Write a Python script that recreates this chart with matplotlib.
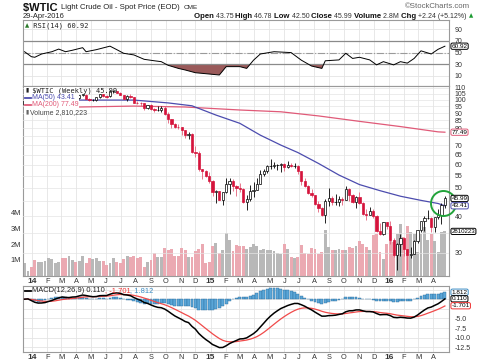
import numpy as np
import pandas as pd
import matplotlib
matplotlib.use('Agg')
import matplotlib.pyplot as plt
from matplotlib.patches import Rectangle
from matplotlib.lines import Line2D
from matplotlib.ticker import FixedLocator, FuncFormatter, NullLocator
from matplotlib.transforms import blended_transform_factory as blend

plt.rcParams['font.family'] = ['Liberation Sans', 'DejaVu Sans']

# weekly bars, week ending Friday
weeks = pd.date_range('2013-12-20', '2016-04-29', freq='W-FRI')

opens = [96.6, 99.3, 99.9, 93.9, 92.6, 94.3, 96.5, 97.4, 99.8, 100.3,
         102.2, 102.8, 102.4, 98.9, 99.5, 101.6, 101.1, 103.7, 104.2, 100.6,
         99.8, 100.0, 102.0, 104.3, 102.7, 102.7, 106.9, 107.2, 105.7, 103.8,
         100.8, 103.1, 102.0, 97.9, 97.6, 97.3, 93.6, 96.0, 93.3, 92.3,
         92.4, 93.5, 89.7, 85.8, 82.8, 81.0, 80.5, 78.6, 75.8, 76.4,
         66.1, 65.8, 57.8, 57.1, 54.7, 52.7, 48.4, 48.7, 45.6, 48.3,
         51.7, 52.8, 50.8, 49.8, 49.6, 44.8, 45.7, 48.9, 49.1, 51.6,
         55.7, 57.2, 59.2, 59.4, 59.7, 59.7, 60.3, 59.1, 60.0, 59.6,
         59.6, 56.9, 52.7, 50.9, 48.1, 47.1, 43.9, 42.5, 40.5, 45.2,
         46.1, 44.6, 44.7, 45.7, 45.5, 49.6, 47.3, 44.6, 46.6, 44.3,
         40.7, 40.4, 41.7, 40.0, 35.6, 34.7, 38.1, 37.0, 33.2, 29.4,
         32.2, 33.6, 30.9, 29.4, 29.6, 32.8, 35.9, 38.5, 39.4, 39.5,
         36.8, 39.7, 40.4, 43.75]
highs = [99.5, 100.8, 100.0, 94.6, 94.8, 97.8, 98.2, 100.3, 101.0, 103.7,
         103.0, 105.2, 102.6, 101.4, 102.0, 101.8, 104.1, 104.9, 104.5, 101.4,
         101.0, 102.3, 104.6, 104.5, 103.5, 107.7, 107.7, 107.5, 106.2, 104.1,
         104.2, 105.1, 102.2, 98.8, 98.2, 97.5, 96.2, 96.8, 93.8, 95.2,
         94.9, 95.2, 90.5, 86.0, 83.5, 82.5, 80.8, 79.0, 77.5, 76.9,
         69.6, 66.6, 58.1, 57.6, 56.8, 53.1, 49.3, 48.9, 48.3, 54.2,
         54.0, 53.8, 51.0, 52.0, 50.0, 47.4, 51.3, 52.5, 54.0, 57.4,
         58.0, 59.9, 62.6, 61.5, 60.2, 60.6, 61.0, 61.6, 61.0, 61.0,
         59.9, 57.0, 53.9, 51.2, 49.4, 47.4, 45.2, 43.1, 45.9, 50.0,
         46.9, 47.6, 46.8, 46.4, 50.9, 49.9, 47.5, 47.0, 48.4, 44.8,
         42.3, 43.0, 42.4, 40.3, 37.9, 38.3, 38.2, 38.4, 33.7, 32.4,
         34.8, 33.7, 31.0, 31.5, 33.1, 36.0, 38.5, 40.2, 41.9, 39.6,
         39.8, 42.4, 44.5, 46.78]
lows = [96.0, 98.5, 93.8, 91.2, 91.5, 94.0, 95.0, 96.0, 99.0, 99.8,
        100.5, 100.8, 97.5, 97.8, 98.8, 98.8, 100.6, 103.0, 100.4, 98.9,
        98.9, 99.0, 101.5, 102.0, 101.8, 102.5, 105.6, 105.2, 103.5, 100.6,
        99.2, 101.5, 97.5, 96.7, 95.0, 92.5, 92.8, 92.5, 90.5, 91.4,
        91.2, 88.5, 83.6, 79.8, 80.0, 79.5, 75.8, 73.8, 73.3, 65.7,
        63.7, 57.3, 53.6, 54.5, 52.0, 46.8, 44.2, 45.4, 43.6, 48.0,
        47.8, 48.8, 47.0, 48.5, 44.4, 42.0, 45.2, 46.7, 49.0, 51.5,
        55.0, 56.4, 58.0, 58.6, 57.5, 56.5, 57.2, 58.5, 58.8, 58.6,
        55.7, 51.3, 50.3, 47.7, 46.7, 43.8, 41.4, 40.2, 37.8, 43.2,
        43.6, 43.7, 43.2, 43.8, 45.4, 45.1, 44.2, 42.6, 44.1, 40.5,
        38.9, 40.4, 39.3, 35.4, 34.5, 34.6, 36.1, 32.1, 29.1, 26.2,
        29.3, 29.3, 26.1, 28.7, 29.6, 32.5, 35.3, 35.5, 39.0, 35.2,
        35.2, 39.0, 37.6, 42.50]
closes = [99.3, 100.3, 94.0, 92.7, 94.4, 96.6, 97.5, 99.9, 100.3, 102.2,
          102.6, 102.5, 98.9, 99.5, 101.7, 101.1, 103.7, 104.3, 100.6, 99.8,
          100.0, 102.0, 104.4, 102.7, 102.6, 106.9, 107.3, 105.7, 103.8, 100.8,
          103.1, 102.1, 97.9, 97.7, 97.4, 93.7, 96.0, 93.3, 92.3, 92.4,
          93.5, 89.7, 85.8, 82.8, 81.0, 80.5, 78.7, 75.8, 76.5, 66.2,
          65.8, 57.8, 57.1, 54.7, 52.7, 48.4, 48.7, 45.6, 48.2, 51.7,
          52.8, 50.8, 49.8, 49.6, 44.8, 45.7, 48.9, 49.1, 51.6, 55.7,
          57.2, 59.2, 59.4, 59.7, 59.7, 60.3, 59.1, 60.0, 59.6, 59.6,
          56.9, 52.7, 50.9, 48.1, 47.1, 43.9, 42.5, 40.5, 45.2, 46.1,
          44.6, 44.7, 45.7, 45.5, 49.6, 47.3, 44.6, 46.6, 44.3, 40.7,
          40.4, 41.7, 40.0, 35.6, 34.7, 38.1, 37.0, 33.2, 29.4, 32.2,
          33.6, 30.9, 29.4, 29.6, 32.8, 35.9, 38.5, 39.4, 39.5, 36.8,
          39.7, 40.4, 43.7, 45.99]
volume_m = [0.79, 0.28, 0.57, 1.0, 0.85, 0.87, 0.93, 1.1, 1.06, 0.79,
            0.89, 1.12, 1.12, 1.27, 1.0, 0.85, 0.95, 1.25, 0.8, 1.12,
            1.08, 1.12, 0.95, 0.93, 0.7, 0.79, 1.12, 0.85, 0.79, 1.06,
            1.23, 1.21, 1.25, 1.12, 1.21, 0.57, 0.85, 1.0, 1.42, 1.17,
            1.17, 1.76, 1.6, 1.7, 1.27, 1.27, 1.76, 1.6, 1.21, 1.21,
            1.55, 1.7, 2.0, 0.79, 0.89, 1.85, 2.06, 1.46, 1.6, 2.72,
            2.29, 1.55, 1.95, 1.9,
            1.85, 1.7, 1.8, 2.0, 1.9, 1.63, 1.7, 1.6, 1.63, 1.55,
            1.42, 1.38, 2.0, 1.7, 1.21, 1.12, 1.17, 1.97, 1.42, 1.38,
            1.76, 1.66, 1.38, 1.49, 2.9, 1.8, 1.6, 1.63, 1.7, 1.6,
            1.63, 1.8, 1.76, 1.85, 2.23, 2.0, 1.8, 1.63, 2.55, 2.65,
            1.49, 1.06, 2.0, 2.23, 2.12, 2.65, 3.25, 2.44, 3.18, 2.76,
            2.65, 1.49, 2.65, 3.08, 2.27, 2.65, 2.23, 1.49, 2.76, 2.81]

# indicator lines (week number, value)
rsi_week = [0, 2, 3, 5, 8, 10, 12, 14, 17, 18, 21, 25, 27, 29, 32, 35, 38, 40, 42, 45,
            47, 50, 54, 57, 59, 63, 65, 67, 69, 73, 78, 81, 84, 87, 88, 92, 94, 96, 98, 101,
            103, 105, 108, 110, 112, 114, 116, 119, 121, 123]
rsi_vals = [51.5, 43, 42, 47.6, 51.5, 56, 51.5, 54, 58.4, 51.5, 55, 61, 55, 48.8, 46, 38.5, 36, 34.5, 28.3, 23,
            20.3, 15.6, 13.4, 11.7, 26, 26, 23, 37, 47.6, 51.5, 50, 37, 27, 23, 36, 37.5, 48.8, 40, 42, 37.5,
            29, 34.5, 29, 34.5, 32, 40, 53, 47.6, 55.6, 60.92]
ma50_week = [0, 16, 32, 42, 49, 56, 63, 69, 75, 80, 86, 92, 98, 104, 110, 116, 121, 123]
ma50_vals = [98.5, 99.8, 99.8, 97.6, 95.4, 88.7, 83.1, 75.7, 70.0, 66.0, 60.6, 55.3, 51.3, 48.9,
             46.8, 45.3, 44.2, 43.41]
ma200_week = [0, 16, 32, 47, 63, 75, 86, 98, 110, 121, 123]
ma200_vals = [93.8, 94.5, 95.2, 94.5, 92.3, 91.0, 88.1, 84.4, 81.0, 77.7, 77.49]

assert len(opens) == len(highs) == len(lows) == len(closes) == len(volume_m) == len(weeks)

o = np.array(opens); h = np.array(highs); l = np.array(lows); c = np.array(closes)
n = len(c)
pos = np.arange(n)
prev = np.r_[o[0], c[:-1]]
up = c >= prev

RED = '#d5143c'
BLUE_MA = '#4c4cae'
RED_MA = '#e05a78'
GRID = '#e4e4e4'
EDGE = '#9a9a9a'
TXT = '#333333'

W, H = 480, 363
fig = plt.figure(figsize=(4.8, 3.63), dpi=100)
renderer = fig.canvas.get_renderer()

def fx(x):
    return x / W

def fy(y):
    return 1 - y / H

def px_axes(x0, y0, x1, y1):
    return fig.add_axes([fx(x0), fy(y1), (x1 - x0) / W, (y1 - y0) / H])

ax_r = px_axes(23, 20, 449, 86)
ax_v = px_axes(23, 86, 449, 276)
ax_p = ax_v.twinx()
ax_m = px_axes(23, 286, 449, 352)

# month gridlines, bars sit at the Monday of their week
monday0 = weeks[0] - pd.Timedelta(days=4)
months = pd.date_range('2014-01-01', '2016-04-01', freq='MS')
mpos = np.asarray((months - monday0).days) / 7.0
mlabels = [f'{m.year % 100}' if m.month == 1 else 'JFMAMJJASOND'[m.month - 1] for m in months]

for ax in (ax_r, ax_v, ax_m):
    ax.set_xlim(-0.45, 124.2)
    ax.set_xticks(mpos)
    ax.xaxis.grid(True, color=GRID, lw=0.6)
    ax.set_axisbelow(True)
    for s in ax.spines.values():
        s.set_color(EDGE)
        s.set_linewidth(0.8)
for s in ax_p.spines.values():
    s.set_visible(False)

for ax in (ax_v, ax_m):
    ax.set_xticklabels(mlabels)
    ax.tick_params(axis='x', length=0, pad=1.5, labelsize=5.3, labelcolor=TXT)
    for t, m in zip(ax.get_xticklabels(), months):
        if m.month == 1:
            t.set_fontweight('bold')
            t.set_fontsize(6)
ax_r.tick_params(axis='x', length=0, labelbottom=False)

# ---- RSI panel
ax_r.set_ylim(-7.1, 105.7)
ax_r.yaxis.tick_right()
ax_r.set_yticks([10, 30, 50, 70, 90])
ax_r.tick_params(axis='y', length=0, pad=4, labelsize=5, labelcolor=TXT)
ax_r.yaxis.grid(True, color=GRID, lw=0.6)
ax_r.axhline(70, color='#8a8a8a', lw=0.9)
ax_r.axhline(30, color='#8a8a8a', lw=0.9)
ax_r.axhline(50, color='#9a9a9a', lw=0.8, ls='-.')
rv = np.array(rsi_vals)
ax_r.fill_between(rsi_week, rv, 30, where=rv < 30, interpolate=True, color='#9a5a5a', lw=0)
ax_r.plot(rsi_week, rv, color='black', lw=0.7)

# ---- volume (behind price)
ax_v.set_ylim(-0.03, 12.07)
ax_v.bar(pos, volume_m, width=0.85, color=np.where(up, '#b8b8b8', '#eba9b2'), lw=0)
ax_v.set_yticks([1, 2, 3, 4])
ax_v.set_yticklabels(['1M', '2M', '3M', '4M'])
ax_v.tick_params(axis='y', length=0, pad=1.5, labelsize=5.3, labelcolor=TXT)

# ---- price candles
ax_p.set_yscale('log')
ax_p.set_ylim(24.97, 111.5)
pticks = list(range(30, 115, 5))
hidden = {35, 45, 75}   # covered by the value tags on the reference
ax_p.yaxis.set_major_locator(FixedLocator(pticks))
ax_p.yaxis.set_minor_locator(NullLocator())
ax_p.yaxis.set_major_formatter(FuncFormatter(lambda v, p: '' if round(v) in hidden else f'{v:.0f}'))
ax_p.tick_params(axis='y', length=0, pad=4, labelsize=5, labelcolor=TXT)
ax_p.yaxis.grid(True, color=GRID, lw=0.5)

ax_p.plot(ma200_week, ma200_vals, color=RED_MA, lw=0.9, zorder=2)
ax_p.plot(ma50_week, ma50_vals, color=BLUE_MA, lw=0.9, zorder=2)

wick = np.where(up, 'black', '#e4607a')
ax_p.vlines(pos, l, h, colors=wick, lw=0.6, zorder=3)
for i in range(n):
    col = 'black' if up[i] else RED
    lo, hi = min(o[i], c[i]), max(o[i], c[i])
    fill = col if c[i] < o[i] else 'white'
    ax_p.add_patch(Rectangle((i - 0.33, lo), 0.66, hi - lo, fc=fill, ec=col, lw=0.5, zorder=4))

# green circle on the latest bars
ax_p.plot(pos[-1] - 0.6, 44.5, 'o', ms=18, mfc='none', mec='#22a33a', mew=1.4,
          clip_on=False, zorder=12)

# ---- MACD panel
cs = pd.Series(c)
macd = cs.ewm(span=12, adjust=False).mean() - cs.ewm(span=26, adjust=False).mean()
signal = macd.ewm(span=9, adjust=False).mean()
hist = macd - signal
ax_m.set_ylim(-13.7, 3.42)
ax_m.yaxis.tick_right()
ax_m.set_yticks([-12.5, -10, -7.5, -5])
ax_m.set_yticklabels(['-12.5', '-10.0', '-7.5', '-5.0'])
ax_m.tick_params(axis='y', length=0, pad=4, labelsize=5, labelcolor=TXT)
for g in (-12.5, -10, -7.5, -5, -2.5, 0, 2.5):
    ax_m.axhline(g, color=GRID, lw=0.6, zorder=0)
ax_m.bar(pos, hist, width=0.85, color='#5aa6d8', edgecolor='#2c6e9c', lw=0.3, zorder=2)
ax_m.plot(pos, signal, color='#f04a4a', lw=0.9, zorder=3)
ax_m.plot(pos, macd, color='black', lw=1.1, zorder=4)

# ---- right side value tags
def tag(ax, y, s, ec, size=4.6):
    ax.text(1.006, y, s, transform=blend(ax.transAxes, ax.transData), ha='left', va='center',
            fontsize=size, color='black', clip_on=False, zorder=20,
            bbox=dict(boxstyle='round,pad=0.1,rounding_size=0.25', fc='white', ec=ec, lw=0.7))

tag(ax_r, 60.92, '60.92', 'black')
tag(ax_p, 77.49, '77.49', RED_MA)
tag(ax_p, 45.99, '45.99', 'black')
tag(ax_p, 43.41, '43.41', BLUE_MA)
tag(ax_v, 2.81, '2810223', 'black', size=4.4)
tag(ax_m, 1.812, '1.812', '#3a8cc4')
tag(ax_m, 0.110, '0.110', 'black')
tag(ax_m, -1.701, '-1.701', '#e33')

# ---- text helpers
def chain(x, y, parts):
    for s, kw in parts:
        t = fig.text(fx(x), fy(y), s, va='center', ha='left', **kw)
        x += t.get_window_extent(renderer).width
    return x

def chain_right(xr, y, parts):
    arts = [fig.text(0, fy(y), s, va='center', ha='left', **kw) for s, kw in parts]
    widths = [a.get_window_extent(renderer).width for a in arts]
    x = xr - sum(widths)
    for a, w in zip(arts, widths):
        a.set_x(fx(x))
        x += w

def dash(x, y, color, lw=1.3):
    fig.add_artist(Line2D([fx(x), fx(x + 6)], [fy(y), fy(y)], color=color, lw=lw,
                          transform=fig.transFigure, zorder=4))

# header
chain(23, 7.5, [('$WTIC ', dict(fontsize=8, fontweight='bold', color='#111')),
                ('Light Crude Oil - Spot Price (EOD)  ', dict(fontsize=5.6, color='#222')),
                ('CME', dict(fontsize=4.6, color='#222'))])
fig.text(fx(470), fy(6), '©StockCharts.com', ha='right', va='center', fontsize=5.6, color='#666')
fig.text(fx(23), fy(16), '29-Apr-2016', ha='left', va='center', fontsize=5.4, color='#222')
B = dict(fontsize=5.6, fontweight='bold', color='#111')
V = dict(fontsize=5.0, color='#333')
chain_right(473, 16, [('Open ', B), ('43.75 ', V), ('High ', B), ('46.78 ', V),
                      ('Low ', B), ('42.50 ', V), ('Close ', B), ('45.99 ', V),
                      ('Volume ', B), ('2.8M ', V), ('Chg ', B), ('+2.24 (+5.12%) ', V),
                      ('▲', dict(fontsize=4, color='#1a9a30', family='DejaVu Sans'))])

MONO = dict(family='DejaVu Sans Mono', fontsize=5.0, color='#222')
chain(25, 25.5, [('▲', dict(fontsize=4, color='#2a7a2a', family='DejaVu Sans')),
                 (' RSI(14) 60.92', MONO)])

# price legend with white backing box
fig.add_artist(Rectangle((fx(23.5), fy(115)), (79 - 23.5) / W, (115 - 86.5) / H,
                         transform=fig.transFigure, fc='white', ec='none', zorder=2.5))
chain(25, 90.3, [('▮', dict(fontsize=4.2, color='#222', family='DejaVu Sans')),
                 (' $WTIC (Weekly) 45.99', MONO)])
dash(25, 97.8, BLUE_MA)
fig.text(fx(32), fy(97.8), 'MA(50) 43.41', va='center', fontsize=5.0, color=BLUE_MA)
dash(25, 105, RED_MA)
fig.text(fx(32), fy(105), 'MA(200) 77.49', va='center', fontsize=5.0, color=RED_MA)
chain(25, 112.2, [('▮', dict(fontsize=4.2, color='#666', family='DejaVu Sans')),
                  (' Volume 2,810,223', dict(fontsize=5.0, color='#444'))])

# MACD legend
dash(25, 290.5, 'black')
chain(32, 290.5, [('MACD(12,26,9) 0.110', dict(fontsize=5.4, color='#222')),
                  (', -1.701', dict(fontsize=5.4, color='#e33')),
                  (', 1.812', dict(fontsize=5.4, color='#3a8cc4'))])

fig.savefig('out.png', dpi=100, facecolor='white')
